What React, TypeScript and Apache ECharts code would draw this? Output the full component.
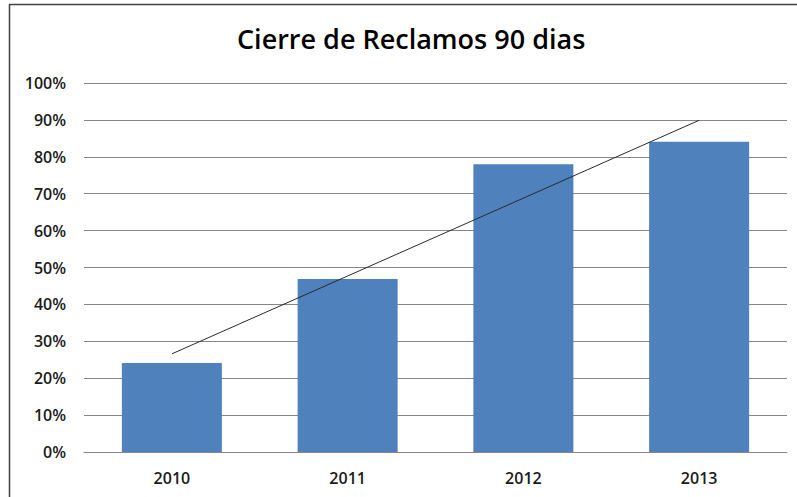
import React, { useEffect, useRef } from "react";
import * as echarts from "echarts";

const categories = ["2010", "2011", "2012", "2013"];
const closedPct = [24.1, 46.9, 78.0, 84.1];
const trendPct = [26.6, 47.7, 68.8, 89.9];
const yTicks = { min: 0, max: 100, interval: 10 };
const titleText = "Cierre de Reclamos 90 dias";

export default function App() {
  const ref = useRef<HTMLDivElement>(null);
  useEffect(() => {
    if (!ref.current) return;
    const chart = echarts.init(ref.current, undefined, { renderer: "svg" });
    chart.setOption({
      animation: false,
      backgroundColor: "#ffffff",
      title: {
        text: titleText,
        left: 232,
        top: 20,
        textStyle: {
          fontFamily: "Open Sans",
          fontWeight: 600,
          fontSize: 27,
          color: "#000000",
        },
      },
      grid: { left: 84, right: 10, top: 83, bottom: 45 },
      xAxis: {
        type: "category",
        data: categories,
        axisTick: { show: false },
        axisLine: { show: true, lineStyle: { color: "#868686", width: 1 } },
        axisLabel: {
          margin: 18,
          fontFamily: "Open Sans",
          fontWeight: 600,
          fontSize: 16,
          color: "#1a1a1a",
        },
      },
      yAxis: {
        type: "value",
        min: yTicks.min,
        max: yTicks.max,
        interval: yTicks.interval,
        axisLine: { show: false },
        axisTick: { show: false },
        splitLine: { lineStyle: { color: "#868686", width: 1 } },
        axisLabel: {
          formatter: "{value}%",
          margin: 18,
          fontFamily: "Open Sans",
          fontWeight: 600,
          fontSize: 16,
          color: "#1a1a1a",
        },
      },
      series: [
        {
          type: "bar",
          data: closedPct,
          barWidth: 100,
          itemStyle: { color: "#4F81BD" },
        },
        {
          type: "line",
          data: trendPct,
          symbol: "none",
          lineStyle: { color: "#2a2a2a", width: 1 },
          z: 5,
        },
      ],
      graphic: [
        {
          type: "line",
          shape: { x1: 9, y1: 4.5, x2: 797, y2: 4.5 },
          style: { stroke: "#404040", lineWidth: 1.5 },
        },
        {
          type: "line",
          shape: { x1: 9.5, y1: 4, x2: 9.5, y2: 497 },
          style: { stroke: "#404040", lineWidth: 1.5 },
        },
      ],
    });
    return () => chart.dispose();
  }, []);
  return (
    <div
      ref={ref}
      style={{ position: "fixed", left: 0, top: 0, width: 797, height: 497 }}
    />
  );
}
